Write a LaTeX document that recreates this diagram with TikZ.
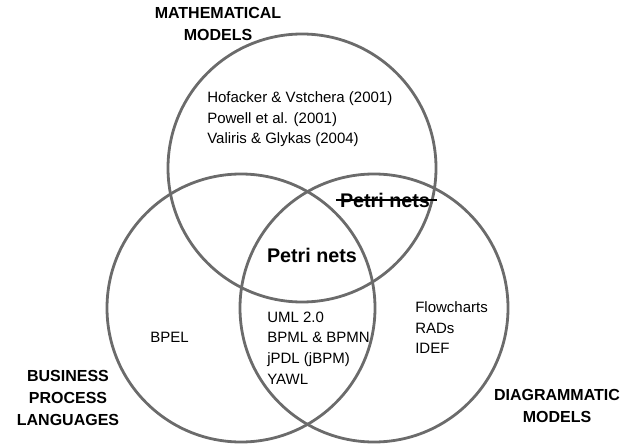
\documentclass[tikz,border=0pt]{standalone}
\usepackage{fontspec}
\setmainfont{Liberation Sans}
\definecolor{venngray}{HTML}{6B6B6B}
\tikzset{
  venn/.style = {circle, draw = venngray, line width = 2.1pt, minimum size = 201pt, inner sep = 0pt},
  setname/.style = {align = center, font = \fontsize{12}{16.5}\selectfont\bfseries},
  note/.style = {align = left, anchor = west, inner sep = 0pt, font = \fontsize{11.25}{15.4}\selectfont},
  petri/.style = {inner sep = 0pt, font = \fontsize{14.8}{17}\selectfont\bfseries}
}
\begin{document}
\begin{tikzpicture}[x=0.75pt,y=-0.75pt]
\useasboundingbox (0,0) rectangle (634,445);

% the three sets
\node [venn] (math) at (302,168) {};
\node [venn] (bpl) at (241,308) {};
\node [venn] (diag) at (374,308) {};

% set names
\node [setname] (mathname) at (218,24) {MATHEMATICAL\\MODELS};
\node [setname] (bplname) at (68,398) {BUSINESS\\PROCESS\\LANGUAGES};
\node [setname] (diagname) at (557,406) {DIAGRAMMATIC\\MODELS};

% contents
\node [note] (refs) at (207,119.5) {Hofacker \& Vstchera (2001)\\Powell et al. (2001)\\Valiris \& Glykas (2004)};
\node [note] (bpel) at (150,337) {BPEL};
\node [note] (langs) at (267,348) {UML 2.0\\BPML \& BPMN\\jPDL (jBPM)\\YAWL};
\node [note] (charts) at (415,328) {Flowcharts\\RADs\\IDEF};

\node [petri] (petri) at (312,255) {Petri nets};
\node [petri] (struck) at (385,200) {Petri nets};
\draw [line width = 1.4pt] ([xshift=-3pt]struck.west) -- ([xshift=5pt]struck.east);
\end{tikzpicture}
\end{document}
